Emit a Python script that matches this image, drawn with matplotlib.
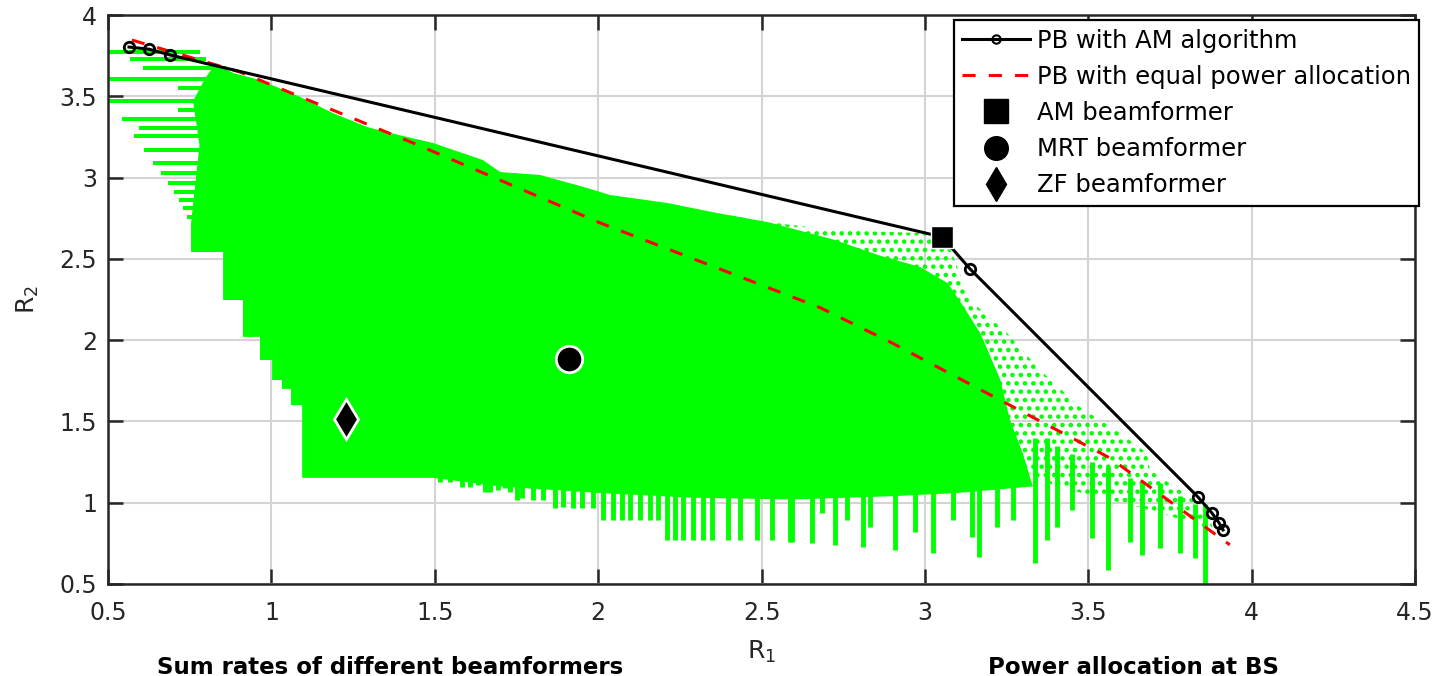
import matplotlib.pyplot as plt
from matplotlib.lines import Line2D

# PB with AM algorithm (black line with circles)
am_r1 = [0.564, 0.625, 0.690, 3.052, 3.138, 3.835, 3.878, 3.900, 3.912]
am_r2 = [3.803, 3.790, 3.754, 2.635, 2.438, 1.036, 0.937, 0.876, 0.833]

# PB with equal power allocation (red dashed)
eq_r1 = [0.573, 0.904, 1.433, 2.006, 2.679, 2.893, 3.566, 3.933]
eq_r2 = [3.846, 3.649, 3.213, 2.721, 2.200, 1.989, 1.275, 0.741]

# single beamformer points (R1, R2)
am_bf = [3.052, 2.635]
mrt_bf = [1.911, 1.882]
zf_bf = [1.228, 1.515]

# achievable rate cloud: dense body outline
dense_r1 = [1.094, 1.094, 1.060, 1.060, 1.032, 1.032, 1.002, 1.002, 0.965, 0.965,
            0.913, 0.913, 0.852, 0.852, 0.754, 0.754, 0.780, 0.760, 0.800, 0.830,
            0.883, 0.965, 1.088, 1.188, 1.293, 1.394, 1.494, 1.647, 1.700, 1.822,
            1.966, 2.036, 2.211, 2.364, 2.517, 2.718, 2.862, 2.985, 3.070, 3.120,
            3.170, 3.230, 3.260, 3.300, 3.330, 3.100, 2.900, 2.600, 2.300, 2.000,
            1.700, 1.494]
dense_r2 = [1.153, 1.600, 1.600, 1.700, 1.700, 1.755, 1.755, 1.878, 1.878, 2.020,
            2.020, 2.247, 2.247, 2.542, 2.542, 2.720, 3.200, 3.470, 3.620, 3.700,
            3.643, 3.600, 3.496, 3.397, 3.311, 3.260, 3.213, 3.108, 3.034, 3.016,
            2.936, 2.893, 2.844, 2.782, 2.727, 2.620, 2.520, 2.450, 2.350, 2.200,
            2.040, 1.760, 1.510, 1.300, 1.100, 1.060, 1.040, 1.020, 1.030, 1.060,
            1.100, 1.153]

# sparse (dotted) outer part of the cloud
sparse_r1 = [2.364, 2.517, 2.718, 2.985, 3.067, 3.138, 3.251, 3.352, 3.474, 3.597,
             3.679, 3.688, 3.811, 3.872, 3.881, 3.700, 3.400, 3.000, 2.600]
sparse_r2 = [2.782, 2.727, 2.678, 2.659, 2.616, 2.247, 2.044, 1.817, 1.589, 1.429,
             1.306, 1.202, 1.036, 0.913, 0.833, 0.950, 1.100, 1.500, 2.200]

# horizontal streaks on the left of the cloud
streak_r2 = [3.772, 3.729, 3.674, 3.606, 3.551, 3.471, 3.416, 3.360, 3.305,
             3.256, 3.170, 3.090, 3.028, 2.967, 2.911, 2.862, 2.813, 2.758]
streak_start = [0.49, 0.567, 0.607, 0.49, 0.714, 0.49, 0.714, 0.543, 0.595,
                0.580, 0.610, 0.638, 0.662, 0.684, 0.702, 0.717, 0.729, 0.742]
streak_end = [0.78, 0.80, 0.86, 0.90, 0.90, 0.90, 0.90, 0.90, 0.90,
              0.90, 0.90, 0.90, 0.90, 0.90, 0.90, 0.90, 0.90, 0.90]

# vertical spikes hanging below the cloud
spike_r1 = [1.516, 1.547, 1.582, 1.608, 1.633, 1.654, 1.669, 1.694, 1.715, 1.730,
            1.751, 1.766, 1.801, 1.832, 1.868, 1.893, 1.924, 1.950, 1.985, 2.016,
            2.046, 2.072, 2.097, 2.128, 2.158, 2.184, 2.209, 2.235, 2.260, 2.291,
            2.322, 2.347, 2.398, 2.434, 2.485, 2.531, 2.587, 2.592, 2.653, 2.684,
            2.725, 2.760, 2.811, 2.832, 2.908, 2.969, 3.025, 3.087, 3.143, 3.166,
            3.219, 3.270, 3.337, 3.372, 3.403, 3.449, 3.510, 3.561, 3.627, 3.663,
            3.719, 3.780, 3.826, 3.857]
spike_bottom = [1.130, 1.130, 1.099, 1.099, 1.109, 1.068, 1.068, 1.079, 1.089, 1.068,
                1.017, 1.027, 1.017, 1.017, 0.966, 0.976, 0.966, 0.966, 0.966, 0.894,
                0.894, 0.894, 0.894, 0.894, 0.894, 0.894, 0.771, 0.771, 0.771, 0.771,
                0.771, 0.771, 0.771, 0.771, 0.771, 0.771, 0.761, 0.761, 0.751, 0.935,
                0.740, 0.894, 0.730, 0.853, 0.710, 0.822, 0.689, 0.894, 0.792, 0.669,
                0.853, 0.894, 0.628, 0.771, 0.853, 0.956, 0.781, 0.587, 0.761, 0.679,
                0.720, 0.689, 0.658, 0.500]
spike_top = [1.20] * 52 + [1.40, 1.40, 1.35, 1.30, 1.25, 1.22, 1.15, 1.12,
                           1.12, 1.04, 0.99, 0.99]

GREEN = '#00ff00'
AXC = '#262626'

fig = plt.figure(figsize=(14.39, 6.76), dpi=100)
ax = fig.add_axes([0.0751, 0.1361, 0.9083, 0.8417])

# cloud
plt.rcParams['hatch.linewidth'] = 2.0
ax.fill(sparse_r1, sparse_r2, facecolor='none', edgecolor=GREEN, hatch='..',
        linewidth=0, zorder=2)
ax.fill(dense_r1, dense_r2, color=GREEN, linewidth=0, zorder=3)
ax.hlines(streak_r2, streak_start, streak_end, color=GREEN, linewidth=2.9, zorder=3)
ax.vlines(spike_r1, spike_bottom, spike_top, color=GREEN, linewidth=3.5, zorder=3)

# boundaries
ax.plot(eq_r1, eq_r2, color='red', linewidth=2.2, dashes=(4.3, 4.3), zorder=4)
ax.plot(am_r1, am_r2, color='black', linewidth=2.2, marker='o', markersize=7.5,
        markerfacecolor='none', markeredgewidth=2, zorder=5)

# beamformers
ax.plot(am_bf[0], am_bf[1], marker='s', markersize=16.5, color='black',
        markeredgecolor='white', markeredgewidth=1, linestyle='none', zorder=6)
ax.plot(mrt_bf[0], mrt_bf[1], marker='o', markersize=19, color='black',
        markeredgecolor='white', markeredgewidth=2, linestyle='none', zorder=6)
ax.plot(zf_bf[0], zf_bf[1], marker='d', markersize=20, color='black',
        markeredgecolor='white', markeredgewidth=2, linestyle='none', zorder=6)

ax.set_xlim(0.5, 4.5)
ax.set_ylim(0.5, 4)
ax.set_xticks([0.5, 1, 1.5, 2, 2.5, 3, 3.5, 4, 4.5])
ax.set_xticklabels(['0.5', '1', '1.5', '2', '2.5', '3', '3.5', '4', '4.5'])
ax.set_yticks([0.5, 1, 1.5, 2, 2.5, 3, 3.5, 4])
ax.set_yticklabels(['0.5', '1', '1.5', '2', '2.5', '3', '3.5', '4'])
ax.grid(True, color='#d4d4d4', linewidth=1.5, zorder=0)
ax.set_axisbelow(True)
for s in ax.spines.values():
    s.set_color(AXC)
    s.set_linewidth(1.8)
    s.set_zorder(7)
ax.tick_params(direction='in', length=11, width=1.8, color=AXC, labelcolor=AXC,
               labelsize=17, top=True, right=True)
ax.tick_params(axis='x', pad=12)
ax.tick_params(axis='y', pad=8)
ax.set_xlabel(r'R$_\mathregular{1}$', fontsize=18, color=AXC, labelpad=10)
ax.set_ylabel(r'R$_\mathregular{2}$', fontsize=18, color=AXC, labelpad=13)

handles = [
    Line2D([], [], color='black', linewidth=2.2, marker='o', markersize=6,
           markerfacecolor='none', markeredgewidth=1.5),
    Line2D([], [], color='red', linewidth=2.2, dashes=(4.3, 4.3)),
    Line2D([], [], color='black', marker='s', markersize=17, linestyle='none'),
    Line2D([], [], color='black', marker='o', markersize=17, linestyle='none'),
    Line2D([], [], color='black', marker='d', markersize=17, linestyle='none'),
]
labels = ['PB with AM algorithm', 'PB with equal power allocation',
          'AM beamformer', 'MRT beamformer', 'ZF beamformer']
leg = ax.legend(handles, labels, loc='upper right', bbox_to_anchor=(1.003, 0.991),
                borderaxespad=0, fontsize=17.5, handlelength=2.8,
                handletextpad=0.25, labelspacing=0.5, borderpad=0.35,
                fancybox=False, framealpha=1, edgecolor='black')
leg.get_frame().set_linewidth(1.6)
leg.set_zorder(8)

fig.text(0.2714, 0.0133, 'Sum rates of different beamformers', ha='center',
         va='center', fontsize=16.5, fontweight='bold')
fig.text(0.7877, 0.0133, 'Power allocation at BS', ha='center', va='center',
         fontsize=16.5, fontweight='bold')

fig.savefig('out.png', dpi=100)
